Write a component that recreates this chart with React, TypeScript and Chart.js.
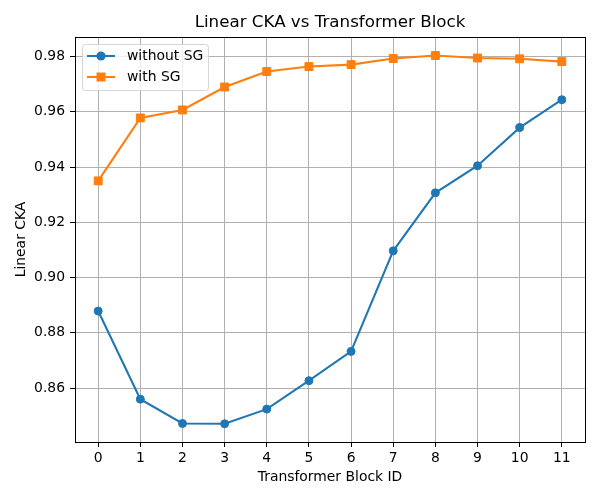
import React, { useEffect, useRef } from "react";
import { Chart, registerables } from "chart.js";

Chart.register(...registerables);

const blocks = [0, 1, 2, 3, 4, 5, 6, 7, 8, 9, 10, 11];
const withoutSG = [0.8879, 0.856, 0.8472, 0.8471, 0.8524, 0.8627, 0.8733, 0.9097, 0.9307, 0.9405, 0.9543, 0.9644];
const withSG = [0.935, 0.9578, 0.9607, 0.969, 0.9746, 0.9764, 0.9771, 0.9793, 0.9804, 0.9795, 0.9792, 0.9782];
const yTicks = [0.86, 0.88, 0.9, 0.92, 0.94, 0.96, 0.98];
const xTicks = blocks;

const FONT = "'DejaVu Sans', sans-serif";
const BLUE = "#1f77b4";
const ORANGE = "#ff7f0e";

const decor = {
  id: "decor",
  afterDatasetsDraw(chart: any) {
    const { ctx, chartArea: a } = chart;
    ctx.save();
    ctx.strokeStyle = "#000";
    ctx.lineWidth = 1;
    ctx.strokeRect(Math.round(a.left) + 0.5, Math.round(a.top) + 0.5, Math.round(a.right - a.left), Math.round(a.bottom - a.top));

    ctx.fillStyle = "#000";
    ctx.textAlign = "center";
    ctx.textBaseline = "middle";
    ctx.font = `16.7px ${FONT}`;
    ctx.fillText("Linear CKA vs Transformer Block", (a.left + a.right) / 2, 23);
    ctx.font = `13.9px ${FONT}`;
    ctx.fillText("Transformer Block ID", (a.left + a.right) / 2, 477);
    ctx.save();
    ctx.translate(21, (a.top + a.bottom) / 2);
    ctx.rotate(-Math.PI / 2);
    ctx.fillText("Linear CKA", 0, 0);
    ctx.restore();

    // legend
    const lx = 82.5, ly = 44.5, lw = 126, lh = 46, r = 3;
    ctx.beginPath();
    ctx.moveTo(lx + r, ly);
    ctx.lineTo(lx + lw - r, ly);
    ctx.quadraticCurveTo(lx + lw, ly, lx + lw, ly + r);
    ctx.lineTo(lx + lw, ly + lh - r);
    ctx.quadraticCurveTo(lx + lw, ly + lh, lx + lw - r, ly + lh);
    ctx.lineTo(lx + r, ly + lh);
    ctx.quadraticCurveTo(lx, ly + lh, lx, ly + lh - r);
    ctx.lineTo(lx, ly + r);
    ctx.quadraticCurveTo(lx, ly, lx + r, ly);
    ctx.closePath();
    ctx.fillStyle = "rgba(255,255,255,0.8)";
    ctx.fill();
    ctx.strokeStyle = "rgba(204,204,204,0.8)";
    ctx.lineWidth = 1;
    ctx.stroke();

    const entries = [
      { label: "without SG", color: BLUE, shape: "circle", y: 56 },
      { label: "with SG", color: ORANGE, shape: "rect", y: 77 },
    ];
    entries.forEach((e) => {
      ctx.strokeStyle = e.color;
      ctx.lineWidth = 2.08;
      ctx.beginPath();
      ctx.moveTo(87, e.y);
      ctx.lineTo(115, e.y);
      ctx.stroke();
      ctx.fillStyle = e.color;
      ctx.beginPath();
      if (e.shape === "circle") {
        ctx.arc(101, e.y, 4.6, 0, Math.PI * 2);
      } else {
        ctx.rect(101 - 4.5, e.y - 4.5, 9, 9);
      }
      ctx.fill();
      ctx.fillStyle = "#000";
      ctx.textAlign = "left";
      ctx.textBaseline = "middle";
      ctx.font = `13.9px ${FONT}`;
      ctx.fillText(e.label, 127, e.y);
    });
    ctx.restore();
  },
};

export default function App() {
  const ref = useRef<HTMLCanvasElement>(null);
  useEffect(() => {
    if (!ref.current) return;
    const chart = new Chart(ref.current, {
      type: "line",
      data: {
        datasets: [
          {
            label: "without SG",
            data: blocks.map((b, i) => ({ x: b, y: withoutSG[i] })),
            borderColor: BLUE,
            backgroundColor: BLUE,
            pointBackgroundColor: BLUE,
            pointBorderColor: BLUE,
            pointStyle: "circle",
            pointRadius: 4,
            pointBorderWidth: 1,
            borderWidth: 2.08,
            tension: 0,
            order: 2,
          },
          {
            label: "with SG",
            data: blocks.map((b, i) => ({ x: b, y: withSG[i] })),
            borderColor: ORANGE,
            backgroundColor: ORANGE,
            pointBackgroundColor: ORANGE,
            pointBorderColor: ORANGE,
            pointStyle: "rect",
            pointRadius: 5.6,
            pointBorderWidth: 1,
            borderWidth: 2.08,
            tension: 0,
            order: 1,
          },
        ],
      },
      options: {
        animation: false,
        responsive: false,
        devicePixelRatio: 1,
        layout: { padding: { left: 0, right: 15, top: 37, bottom: 0 } },
        plugins: { legend: { display: false }, title: { display: false }, tooltip: { enabled: false } },
        scales: {
          x: {
            type: "linear",
            min: -0.55,
            max: 11.55,
            afterBuildTicks: (s: any) => {
              s.ticks = xTicks.map((v) => ({ value: v }));
            },
            afterFit: (s: any) => {
              s.height = 58;
            },
            grid: { color: "#b0b0b0", lineWidth: 1, tickColor: "#000", tickLength: 5, tickWidth: 1 },
            border: { display: false },
            ticks: {
              color: "#000",
              font: { family: FONT, size: 13.9 },
              padding: 3,
              maxRotation: 0,
              autoSkip: false,
              callback: (v: any) => String(v),
            },
          },
          y: {
            type: "linear",
            min: 0.8405,
            max: 0.9871,
            afterBuildTicks: (s: any) => {
              s.ticks = yTicks.map((v) => ({ value: v }));
            },
            afterFit: (s: any) => {
              s.width = 75;
            },
            grid: { color: "#b0b0b0", lineWidth: 1, tickColor: "#000", tickLength: 5, tickWidth: 1 },
            border: { display: false },
            ticks: {
              color: "#000",
              font: { family: FONT, size: 13.9 },
              padding: 5,
              autoSkip: false,
              callback: (v: any) => Number(v).toFixed(2),
            },
          },
        },
      },
      plugins: [decor],
    } as any);
    return () => chart.destroy();
  }, []);
  return (
    <div style={{ position: "absolute", left: 0, top: 0, width: 600, height: 500, background: "#fff" }}>
      <canvas ref={ref} width={600} height={500} />
    </div>
  );
}
